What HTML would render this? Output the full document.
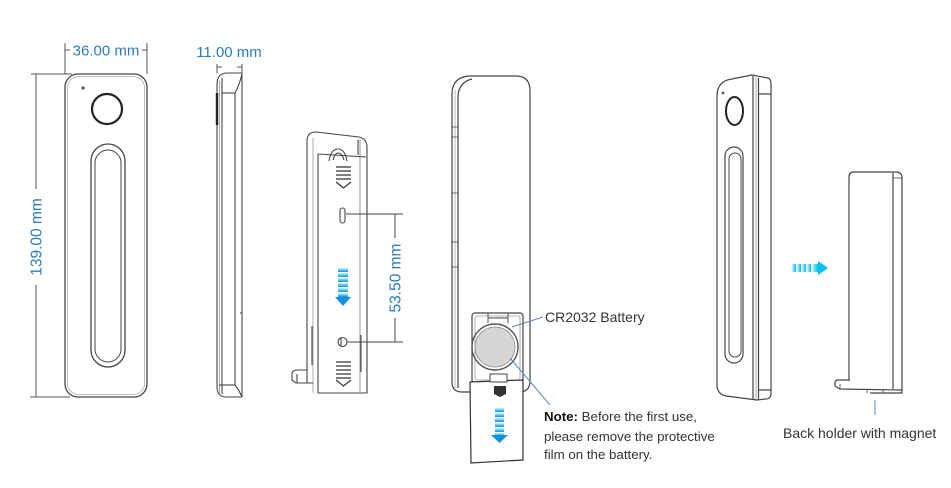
<!DOCTYPE html>
<html><head><meta charset="utf-8"><style>
html,body{margin:0;padding:0;background:#fff;}
svg{display:block;}
text{font-family:"Liberation Sans",Arial,sans-serif;}
</style></head><body>
<svg width="951" height="488" viewBox="0 0 951 488" xmlns="http://www.w3.org/2000/svg">
<defs>
<linearGradient id="gv" x1="0" y1="0" x2="0" y2="1">
<stop offset="0" stop-color="#d4f3fb"/><stop offset="0.5" stop-color="#5cc8ef"/><stop offset="1" stop-color="#1590e0"/>
</linearGradient>
<linearGradient id="gh" x1="0" y1="0" x2="1" y2="0">
<stop offset="0" stop-color="#d4f5fc"/><stop offset="0.6" stop-color="#4fd2f2"/><stop offset="1" stop-color="#05c2ee"/>
</linearGradient>
</defs>
<rect width="951" height="488" fill="#fff"/>

<!-- ===== Left front view ===== -->
<g fill="none" stroke="#444" stroke-width="1.3">
<rect x="65" y="74" width="82" height="323" rx="13"/>
<rect x="67.5" y="76.5" width="77" height="318" rx="11" stroke="#aaa" stroke-width="0.8"/>
<circle cx="107" cy="109" r="15" stroke="#222" stroke-width="2.2"/>
<rect x="91" y="144" width="34" height="223" rx="17"/>
<rect x="95" y="150" width="26" height="212" rx="13" stroke-width="1"/>
</g>
<circle cx="83" cy="88" r="1.6" fill="#555"/>

<!-- dims 36.00 -->
<g stroke="#555" stroke-width="1" fill="none">
<line x1="65" y1="43" x2="65" y2="74"/>
<line x1="147" y1="43" x2="147" y2="74"/>
<line x1="65" y1="50" x2="70" y2="50"/>
<line x1="142" y1="50" x2="147" y2="50"/>
<!-- 139.00 -->
<line x1="31" y1="74" x2="72" y2="74"/>
<line x1="30" y1="397" x2="70" y2="397"/>
<line x1="36" y1="74" x2="36" y2="189"/>
<line x1="36" y1="285" x2="36" y2="397"/>
<!-- 11.00 -->
<line x1="217" y1="64" x2="217" y2="73"/>
<line x1="242" y1="64" x2="242" y2="73"/>
<line x1="217" y1="67" x2="222" y2="67"/>
<line x1="237" y1="67" x2="242" y2="67"/>
</g>
<text x="106" y="55.5" font-size="15" fill="#2b7bba" text-anchor="middle">36.00 mm</text>
<text x="229" y="57" font-size="15" fill="#2b7bba" text-anchor="middle">11.00 mm</text>
<text transform="translate(41.5,237) rotate(-90)" font-size="15.5" fill="#2b7bba" text-anchor="middle">139.00 mm</text>

<!-- ===== Side view ===== -->
<g fill="none" stroke="#444" stroke-width="1.1">
<path d="M217 84 Q217 74 226 73 L242 73"/>
<line x1="217" y1="84" x2="217" y2="388"/>
<path d="M217 388 Q218 397 226 397 L242 397"/>
<line x1="219.5" y1="80" x2="219.5" y2="394" stroke="#999" stroke-width="0.8"/>
<line x1="222" y1="78" x2="222" y2="394"/>
<line x1="235" y1="93" x2="235" y2="385"/>
<line x1="242" y1="73" x2="242" y2="397"/>
<path d="M242 74 Q239 86 235 93"/>
<line x1="222" y1="93" x2="235" y2="93"/>
<path d="M242 397 Q239 390 235 385"/>
<line x1="219" y1="385" x2="235" y2="385"/>
<line x1="217" y1="93" x2="217" y2="125" stroke="#222" stroke-width="2.4"/>
<line x1="240" y1="313" x2="242" y2="313"/>
</g>

<!-- ===== Back plate ===== -->
<g fill="none" stroke="#444" stroke-width="1.1">
<path d="M307 383 L307 141 Q307 132 316 132 L359 137 Q367 139 367 147 L367 393 L318 393"/>
<line x1="313" y1="138" x2="313" y2="393" stroke="#999" stroke-width="0.8"/>
<line x1="318" y1="154" x2="318" y2="393"/>
<line x1="360" y1="139" x2="360" y2="393" stroke="#888" stroke-width="0.9"/>
<path d="M318 154 L366 157"/>
<path d="M307 370 L296 370 Q292 371 292 374 L292 380 L296 383 L313 383"/>
<line x1="297" y1="374" x2="297" y2="383"/>
<path d="M358 140 L358 155 M361 335 L361 372 M312 326 L312 365"/>
<path d="M329 161 Q331 149 338 149 Q345 149 347 161"/>
<path d="M333 160 Q335 153 338 153 Q342 153 344 160"/>
<rect x="340" y="208" width="5" height="15" rx="2.5"/>
<circle cx="342.5" cy="342" r="4.5"/>
<line x1="341" y1="338" x2="341" y2="346"/>
</g>
<!-- ridges top -->
<g fill="none" stroke="#333" stroke-width="1.2">
<path d="M336 167 H351 M336 171 H351 M336 175 H351 M336 179 H351"/>
<path d="M336 182 L343.5 188 L351 182"/>
<path d="M336 362 H351 M336 366 H351 M336 370 H351 M336 374 H351 M336 378 H351"/>
<path d="M336 380 L343.5 386 L351 380"/>
</g>
<!-- blue arrow on plate -->
<g fill="url(#gv)">
<rect x="338" y="268" width="10" height="4"/>
<rect x="338" y="273" width="10" height="4"/>
<rect x="338" y="278" width="10" height="4"/>
<rect x="338" y="283" width="10" height="4"/>
<rect x="338" y="288" width="10" height="4"/>
<rect x="338" y="293" width="10" height="4"/>
</g>
<polygon points="335,297 351,297 343,306" fill="#1590e0"/>

<!-- dims 53.50 -->
<g stroke="#444" stroke-width="1" fill="none">
<line x1="346" y1="214" x2="403" y2="214"/>
<line x1="347" y1="342" x2="403" y2="342"/>
<line x1="395" y1="214" x2="395" y2="238"/>
<line x1="395" y1="318" x2="395" y2="342"/>
</g>
<text transform="translate(400.5,278) rotate(-90)" font-size="15.5" fill="#2b7bba" text-anchor="middle">53.50 mm</text>

<!-- ===== Middle device ===== -->
<g fill="none" stroke="#444" stroke-width="1.2">
<path d="M462 392 Q452 392 452 382 L452 94 Q452 78 468 76 L516 76 Q530 76 530 91 L530 381 Q530 392 519 392 Z"/>
<path d="M458 388 L458 96 Q459 82 472 79" />
<line x1="455" y1="90" x2="455" y2="390" stroke="#aaa" stroke-width="0.8"/>
<path d="M452 127 h6 M452 137 h6 M452 193 h6 M452 242 h6 M452 267 h6" stroke-width="0.8"/>
<rect x="472" y="313" width="51" height="70" rx="3" fill="#fff"/>
<rect x="475" y="316" width="45" height="64" rx="2" stroke="#999" stroke-width="0.8"/>
<path d="M488 323 L488 313 M508 323 L508 313 M488 318 H508" stroke-width="0.9"/>
<circle cx="495" cy="347" r="23" stroke="#555" stroke-width="1.4"/>
</g>
<circle cx="495" cy="347" r="20" fill="#d6d6d6" stroke="#888" stroke-width="0.8"/>
<!-- film -->
<path d="M470 382 L523 380 L523 460 L471 463 Z" fill="#fff" stroke="#333" stroke-width="1.2"/>
<rect x="490" y="374" width="17" height="8" fill="#fff" stroke="#444" stroke-width="1"/>
<path d="M494 386 H506 V394 L500 397 L494 394 Z" fill="#333"/>
<g fill="url(#gv)">
<rect x="495" y="408" width="9" height="4"/>
<rect x="495" y="413" width="9" height="4"/>
<rect x="495" y="418" width="9" height="4"/>
<rect x="495" y="423" width="9" height="4"/>
<rect x="495" y="428" width="9" height="4"/>
<rect x="495" y="433" width="9" height="3"/>
</g>
<polygon points="491,435 508,435 499.5,443" fill="#1590e0"/>

<!-- leaders -->
<g stroke="#5a8ab0" stroke-width="1" fill="none">
<line x1="512" y1="327" x2="543" y2="317"/>
<line x1="510" y1="358" x2="550" y2="405"/>
<line x1="875" y1="400" x2="875" y2="415"/>
</g>
<text x="545" y="322" font-size="14" fill="#333">CR2032 Battery</text>
<text x="544" y="421" font-size="13.3" fill="#333"><tspan fill="#111" font-weight="bold">Note:</tspan> Before the first use,</text>
<text x="544" y="441" font-size="13.3" fill="#333">please remove the protective</text>
<text x="544" y="459" font-size="13.3" fill="#333">film on the battery.</text>

<!-- ===== Right device ===== -->
<g fill="none" stroke="#444" stroke-width="1.2">
<path d="M717 96 C717 84 724 80 732 79 L752 75 L768 78 Q771 79 771 84 L771 395 Q770 399 766 399 L757 400 L726 396 Q717 394 717 385 Z"/>
<line x1="753" y1="76" x2="753" y2="399"/>
<line x1="756" y1="77" x2="756" y2="399" stroke="#999" stroke-width="0.8"/>
<line x1="758.5" y1="78" x2="758.5" y2="400"/>
<line x1="758" y1="94" x2="771" y2="94"/>
<line x1="758" y1="390" x2="771" y2="390"/>
<ellipse cx="734.5" cy="111" rx="8.5" ry="14" stroke="#222" stroke-width="2"/>
<rect x="725" y="147" width="18" height="216" rx="9"/>
<rect x="729" y="153" width="12" height="204" rx="6" stroke-width="1"/>
</g>
<circle cx="723" cy="93" r="1.4" fill="#555"/>

<!-- right arrow -->
<g fill="url(#gh)">
<rect x="792" y="264" width="4" height="8"/>
<rect x="797" y="264" width="4" height="8"/>
<rect x="802" y="264" width="4" height="8"/>
<rect x="807" y="264" width="4" height="8"/>
<rect x="812" y="264" width="6" height="8"/>
</g>
<polygon points="818,261 828,268 818,275" fill="#05c2ee"/>

<!-- back holder -->
<g fill="none" stroke="#444" stroke-width="1.2">
<path d="M849 381 L849 177 Q849 172 854 172 L896 172 Q902 172 902 178 L902 390"/>
<line x1="893" y1="173" x2="893" y2="389"/>
<line x1="893" y1="178" x2="902" y2="178" stroke-width="0.8"/>
<path d="M849 380 L838 380 Q835 380 835 383 L835 386 L840 389 L902 390 L902 393 L870 393"/>
<line x1="840" y1="389" x2="840" y2="384" stroke-width="0.8"/>
<line x1="867" y1="389" x2="867" y2="393" stroke-width="0.8"/>
<line x1="883" y1="389" x2="883" y2="393" stroke-width="0.8"/>
</g>
<text x="783" y="438" font-size="14" fill="#333">Back holder with magnet</text>
</svg>
</body></html>
